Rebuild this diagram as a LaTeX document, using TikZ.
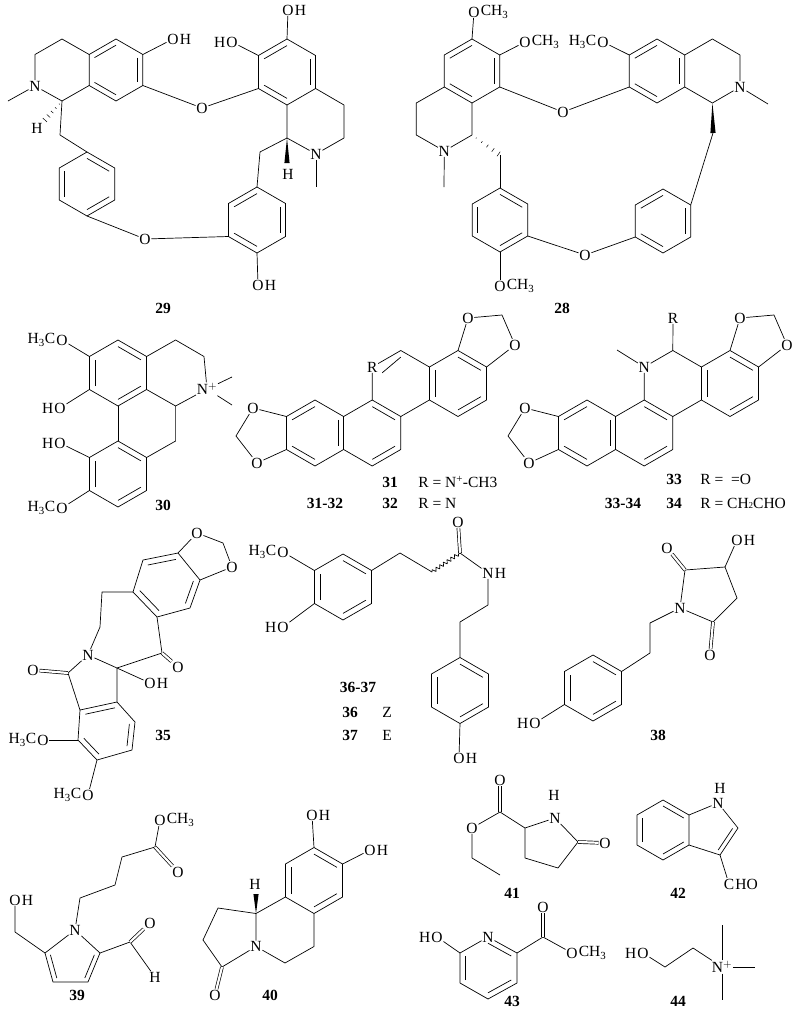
\documentclass[tikz,border=0pt]{standalone}
\usepackage{fontspec}
\setmainfont{Liberation Serif}
\usetikzlibrary{calc,decorations.pathmorphing}
\newcommand\chemfont{\fontsize{15.5}{17}\selectfont}
% ring corners: 1 top, then clockwise
\newcommand\hexpts[3]{\coordinate (#1) at (#2);
  \foreach \k/\a in {1/-90,2/-30,3/30,4/90,5/150,6/210}{\coordinate (#1\k) at ($(#2)+(\a:#3)$);}}
\newcommand\hexdraw[1]{\draw (#11)--(#12)--(#13)--(#14)--(#15)--(#16)--cycle;}
\newcommand\innr[3]{\draw ($(#1)!.2!(#3)$) -- ($(#2)!.2!(#3)$);}
\newcommand\hashb[2]{\foreach \t/\w in {.15/.5,.35/1,.55/1.6,.75/2.2,.95/2.8}{%
  \coordinate (hw) at ($(#1)!\t!(#2)$);
  \draw[line width=.5pt] ($(hw)!\w pt!90:(#2)$) -- ($(hw)!\w pt!-90:(#2)$);}}
\newcommand\wedgeb[2]{\fill (#1) -- ($(#2)!2.6pt!90:(#1)$) -- ($(#2)!2.6pt!-90:(#1)$) -- cycle;}
\tikzset{
  atom/.style={inner sep=0.5pt, font=\chemfont},
  lab/.style={inner sep=0pt, font=\chemfont},
  grpR/.style={label={[lab]east:#1}},
  grpL/.style={label={[lab]west:#1}},
  num/.style={inner sep=0pt, font=\chemfont\bfseries},
  txt/.style={inner sep=0pt, font=\chemfont, anchor=west},
  dbl/.style={double distance=2.2pt},
  wavy/.style={decorate, decoration={snake, amplitude=1.8pt, segment length=4.5pt}},
}
\begin{document}
\begin{tikzpicture}[x=1pt, y=-1pt, line width=0.7pt, line join=round]
\useasboundingbox (0,0) rectangle (800,1009);

% 29
\hexpts{a}{116,70}{31}
\hexpts{c}{87,184}{32}
\hexpts{d}{257,220}{33}
\hexpts{e}{287,72}{33}
\coordinate (b1) at (62,39);
\coordinate (b2) at (35,54.5);
\coordinate (b4) at (62,101);
\coordinate (me1) at (8,101);
\coordinate (h1e) at (44,121);
\coordinate (ch29a) at (60,135);
\coordinate (ch29b) at (260,152);
\coordinate (f2) at (344,105);
\coordinate (f3) at (344,138);
\coordinate (f5) at (287,138);
\coordinate (me2) at (316,187);
\coordinate (h2e) at (287,163);
\node[atom] (n1) at (35,86) {N};
\node[atom] (n2) at (316,154) {N};
\node[atom,grpR=H] (o1) at (173,39) {O};
\node[atom] (o2) at (202,108) {O};
\node[atom] (o3) at (145,239) {O};
\node[atom,grpR=H] (o4) at (258,285) {O};
\node[atom,grpR=H] (o5) at (288,10) {O};
\node[atom,grpL=H] (o6) at (232,42) {O};
\node[atom] (h1) at (37,128) {H};
\node[atom] (h2) at (288,174) {H};
\hexdraw{a} \innr{a6}{a1}{a} \innr{a2}{a3}{a} \innr{a4}{a5}{a}
\draw (a6)--(b1)--(b2)--(n1)--(b4)--(a5);
\draw (n1)--(me1);
\hashb{b4}{h1e}
\draw (b4)--(ch29a)--(c1);
\hexdraw{c} \innr{c1}{c2}{c} \innr{c3}{c4}{c} \innr{c5}{c6}{c}
\draw (c4)--(o3)--(d5);
\hexdraw{d} \innr{d6}{d1}{d} \innr{d2}{d3}{d} \innr{d4}{d5}{d}
\draw (d4)--(o4);
\draw (d1)--(ch29b)--(f5);
\hexdraw{e} \innr{e6}{e1}{e} \innr{e2}{e3}{e} \innr{e4}{e5}{e}
\draw (e3)--(f2)--(f3)--(n2)--(f5)--(e4);
\draw (n2)--(me2);
\wedgeb{f5}{h2e}
\draw (e1)--(o5);
\draw (e6)--(o6);
\draw (e5)--(o2)--(a3);
\draw (a2)--(o1);
\node[num] at (163,308) {29};

% 28
\hexpts{g}{472,71}{32}
\hexpts{i}{500,220}{32}
\hexpts{j}{663,221}{32}
\hexpts{k}{657,71}{32}
\coordinate (h1c) at (416.3,103);
\coordinate (h2c) at (416.3,135);
\coordinate (h4c) at (472,135);
\coordinate (me3) at (444,187);
\coordinate (hw3) at (500,155);
\coordinate (l1) at (712.4,39);
\coordinate (l2) at (740,55);
\coordinate (l5) at (712.4,103);
\coordinate (me4) at (768,104);
\coordinate (ww) at (713,133);
\node[atom] (n3) at (444.3,151) {N};
\node[atom] (n4) at (740,87) {N};
\node[atom,grpR=CH\textsubscript{3}] (o7) at (474,12) {O};
\node[atom,grpR=CH\textsubscript{3}] (o8) at (525,42) {O};
\node[atom] (o9) at (563,112) {O};
\node[atom,grpR=CH\textsubscript{3}] (o10) at (500,286) {O};
\node[atom] (o11) at (585,255) {O};
\node[atom,grpL=H\textsubscript{3}C] (o12) at (603,42) {O};
\hexdraw{g} \innr{g6}{g1}{g} \innr{g2}{g3}{g} \innr{g4}{g5}{g}
\draw (g5)--(h1c)--(h2c)--(n3)--(h4c)--(g4);
\draw (n3)--(me3);
\hashb{h4c}{hw3}
\draw (hw3)--(i1);
\hexdraw{i} \innr{i1}{i2}{i} \innr{i3}{i4}{i} \innr{i5}{i6}{i}
\draw (i4)--(o10);
\draw (i3)--(o11)--(j5);
\hexdraw{j} \innr{j6}{j1}{j} \innr{j2}{j3}{j} \innr{j4}{j5}{j}
\draw (j2)--(ww);
\wedgeb{l5}{ww}
\hexdraw{k} \innr{k6}{k1}{k} \innr{k2}{k3}{k} \innr{k4}{k5}{k}
\draw (k2)--(l1)--(l2)--(n4)--(l5)--(k3);
\draw (n4)--(me4);
\draw (k6)--(o12);
\draw (k5)--(o9)--(g3);
\draw (g1)--(o7);
\draw (g2)--(o8);
\node[num] at (562,308) {28};

% 30
\hexpts{p}{118,373}{33}
\hexpts{q}{118,474}{33}
\coordinate (s1) at (175.6,406);
\coordinate (s2) at (175.6,441);
\coordinate (t1) at (175.6,340);
\coordinate (t2) at (204,356.5);
\coordinate (me5) at (232,377);
\coordinate (me6) at (232,405);
\node[atom] (n5) at (207,389) {N$^+$};
\node[atom,grpL=H\textsubscript{3}C] (o13) at (62,340) {O};
\node[atom,grpL=H] (o14) at (60,408) {O};
\node[atom,grpL=H] (o15) at (60,443) {O};
\node[atom,grpL=H\textsubscript{3}C] (o16) at (62,508) {O};
\hexdraw{p} \innr{p1}{p2}{p} \innr{p3}{p4}{p} \innr{p5}{p6}{p}
\hexdraw{q} \innr{q1}{q2}{q} \innr{q3}{q4}{q} \innr{q5}{q6}{q}
\draw (p4)--(q1);
\draw (p3)--(s1)--(s2)--(q2);
\draw (p2)--(t1)--(t2)--(n5)--(s1);
\draw (n5)--(me5);
\draw (n5)--(me6);
\draw (p6)--(o13);
\draw (p5)--(o14);
\draw (q6)--(o15);
\draw (q5)--(o16);
\node[num] at (163,505) {30};

% 31-32
\hexpts{ra}{315,433}{33}
\hexpts{rb}{372.2,433}{33}
\hexpts{rc}{400.8,383.5}{33}
\hexpts{rd}{458,383.5}{33}
\coordinate (cp1) at (236,436);
\coordinate (cp2) at (502,315);
\node[atom] (r1) at (rc6) {R};
\node[atom] (o17) at (253,408) {O};
\node[atom] (o18) at (257,463) {O};
\node[atom] (o19) at (468,318) {O};
\node[atom] (o20) at (515,345) {O};
\hexdraw{ra} \hexdraw{rb} \hexdraw{rd}
\draw (rc5)--(r1)--(rc1)--(rc2);
\draw (rc3)--(rc4);
\draw ($(r1)!.35!(rc)$) -- ($(rc1)!.2!(rc)$);
\innr{ra6}{ra1}{ra} \innr{ra2}{ra3}{ra} \innr{ra4}{ra5}{ra}
\innr{rb1}{rb2}{rb} \innr{rb3}{rb4}{rb}
\innr{rd5}{rd6}{rd} \innr{rd1}{rd2}{rd} \innr{rd3}{rd4}{rd}
\draw (ra6)--(o17)--(cp1)--(o18)--(ra5);
\draw (rd1)--(o19)--(cp2)--(o20)--(rd2);
\node[num] at (390,482) {31};
\node[txt] at (418,482) {R = N\textsuperscript{+}-CH3};
\node[num] at (390,503) {32};
\node[txt] at (418,503) {R = N};
\node[num] at (325,503) {31-32};

% 33-34
\hexpts{sa}{587,433}{33}
\hexpts{sb}{644.2,433}{33}
\hexpts{sc}{672.8,383.5}{33}
\hexpts{sd}{730,383.5}{33}
\coordinate (me7) at (617,350);
\coordinate (cp3) at (508,436);
\coordinate (cp4) at (774,315);
\node[atom] (n6) at (sc6) {N};
\node[atom] (r2) at (673,318) {R};
\node[atom] (o21) at (525,408) {O};
\node[atom] (o22) at (529,463) {O};
\node[atom] (o23) at (740,318) {O};
\node[atom] (o24) at (787,345) {O};
\hexdraw{sa} \hexdraw{sb} \hexdraw{sd}
\draw (sc5)--(n6)--(sc1)--(sc2);
\draw (sc3)--(sc4);
\draw (sc1)--(r2);
\draw (n6)--(me7);
\innr{sa6}{sa1}{sa} \innr{sa2}{sa3}{sa} \innr{sa4}{sa5}{sa}
\innr{sb1}{sb2}{sb} \innr{sb3}{sb4}{sb}
\innr{sd5}{sd6}{sd} \innr{sd1}{sd2}{sd} \innr{sd3}{sd4}{sd}
\draw (sa6)--(o21)--(cp3)--(o22)--(sa5);
\draw (sd1)--(o23)--(cp4)--(o24)--(sd2);
\node[num] at (674,479) {33};
\node[txt] at (700,479) {R =\enspace=O};
\node[num] at (623,503) {33-34};
\node[num] at (674,503) {34};
\node[txt] at (700,503) {R = CH{\small 2}CHO};

% 35
\coordinate (u1) at (143,560);
\coordinate (u2) at (178,553);
\coordinate (u3) at (200,580);
\coordinate (u4) at (190,608);
\coordinate (u5) at (157,617);
\coordinate (u6) at (133,592);
\coordinate (uc) at (167,585);
\coordinate (cp5) at (223,543);
\coordinate (v1) at (102,592);
\coordinate (v2) at (100,627);
\coordinate (v4) at (117,668);
\coordinate (v5) at (162,653);
\coordinate (w1) at (68,673);
\coordinate (w2) at (80,710);
\coordinate (w3) at (117,702);
\coordinate (x3) at (135,722);
\coordinate (x4) at (132,750);
\coordinate (x5) at (97,760);
\coordinate (x6) at (78,740);
\coordinate (xc) at (107,731);
\node[atom] (o25) at (197,533) {O};
\node[atom] (o26) at (232,567) {O};
\node[atom] (n7) at (88,655) {N};
\node[atom] (o27) at (178,667) {O};
\node[atom,grpR=H] (o28) at (150,683) {O};
\node[atom] (o29) at (33,670) {O};
\node[atom,grpL=H\textsubscript{3}C] (o30) at (43,740) {O};
\node[atom,grpL=H\textsubscript{3}C] (o31) at (88,795) {O};
\draw (u1)--(u2)--(u3)--(u4)--(u5)--(u6)--cycle;
\innr{u1}{u2}{uc} \innr{u3}{u4}{uc} \innr{u5}{u6}{uc}
\draw (u2)--(o25)--(cp5)--(o26)--(u3);
\draw (u6)--(v1)--(v2)--(n7)--(v4)--(v5)--(u5);
\draw[dbl] (v5)--(o27);
\draw (v4)--(o28);
\draw (n7)--(w1)--(w2)--(w3)--(v4);
\draw[dbl] (w1)--(o29);
\draw (w3)--(x3)--(x4)--(x5)--(x6)--(w2);
\innr{w2}{w3}{xc} \innr{x3}{x4}{xc} \innr{x5}{x6}{xc}
\draw (x6)--(o30);
\draw (x5)--(o31);
\node[num] at (163,735) {35};

% 36-37
\hexpts{y}{343,587}{33}
\hexpts{aa}{460,690.5}{33}
\coordinate (z1) at (400,553);
\coordinate (z2) at (432,572);
\coordinate (z3) at (460,553);
\coordinate (z5) at (488,605);
\coordinate (z6) at (460,622);
\node[atom,grpL=H\textsubscript{3}C] (o32) at (283,552) {O};
\node[atom,grpL=H] (o33) at (283,627) {O};
\node[atom] (o34) at (458,522) {O};
\node[atom,grpR=H] (n8) at (488,573) {N};
\node[atom,grpR=H] (o35) at (459,758) {O};
\hexdraw{y} \innr{y5}{y6}{y} \innr{y3}{y4}{y} \innr{y1}{y2}{y}
\draw (y6)--(o32);
\draw (y5)--(o33);
\draw (y2)--(z1)--(z2);
\draw[wavy] (z2)--(z3);
\draw[dbl] (z3)--(o34);
\draw (z3)--(n8)--(z5)--(z6)--(aa1);
\hexdraw{aa} \innr{aa1}{aa2}{aa} \innr{aa3}{aa4}{aa} \innr{aa5}{aa6}{aa}
\draw (aa4)--(o35);
\node[num] at (358,687) {36-37};
\node[num] at (350,712) {36};
\node[lab] at (387,712) {Z};
\node[num] at (350,735) {37};
\node[lab] at (387,735) {E};

% 38
\hexpts{bb}{593,688}{33}
\coordinate (m1) at (650,653);
\coordinate (m2) at (650,623);
\coordinate (cc1) at (685,570);
\coordinate (cc2) at (725,567);
\coordinate (cc3) at (737,598);
\coordinate (cc4) at (713,622);
\node[atom,grpL=H] (o36) at (535,723) {O};
\node[atom] (n9) at (680,608) {N};
\node[atom] (o37) at (667,548) {O};
\node[atom,grpR=H] (o38) at (737,540) {O};
\node[atom] (o39) at (710,655) {O};
\hexdraw{bb} \innr{bb1}{bb2}{bb} \innr{bb3}{bb4}{bb} \innr{bb5}{bb6}{bb}
\draw (bb5)--(o36);
\draw (bb2)--(m1)--(m2)--(n9);
\draw (n9)--(cc1)--(cc2)--(cc3)--(cc4)--(n9);
\draw[dbl] (cc1)--(o37);
\draw (cc2)--(o38);
\draw[dbl] (cc4)--(o39);
\node[num] at (658,735) {38};

% 39
\coordinate (pyr2) at (100,953);
\coordinate (pyr3) at (88,982);
\coordinate (pyr4) at (53,982);
\coordinate (pyr5) at (45,953);
\coordinate (pyrc) at (72,962);
\coordinate (hm1) at (15,932);
\coordinate (ald) at (130,942);
\coordinate (ch1) at (80,898);
\coordinate (ch2) at (115,885);
\coordinate (ch3) at (122,857);
\coordinate (ch4) at (155,847);
\node[atom] (n10) at (75,930) {N};
\node[atom,grpR=H] (o40) at (15,900) {O};
\node[atom] (o41) at (150,923) {O};
\node[atom] (h3) at (155,977) {H};
\node[atom] (o42) at (178,872) {O};
\node[atom,grpR=CH\textsubscript{3}] (o43) at (160,820) {O};
\draw (n10)--(pyr2)--(pyr3)--(pyr4)--(pyr5)--(n10);
\innr{pyr2}{pyr3}{pyrc} \innr{pyr4}{pyr5}{pyrc}
\draw (pyr5)--(hm1)--(o40);
\draw (pyr2)--(ald)--(h3);
\draw[dbl] (ald)--(o41);
\draw (n10)--(ch1)--(ch2)--(ch3)--(ch4);
\draw[dbl] (ch4)--(o42);
\draw (ch4)--(o43);
\node[num] at (77,995) {39};

% 40
\hexpts{gg}{314,880.5}{33}
\coordinate (hh1) at (256,913.5);
\coordinate (q1c) at (314,946.5);
\coordinate (q2c) at (285,963);
\coordinate (i1c) at (218,908);
\coordinate (i2c) at (203,940);
\coordinate (i3c) at (222,967);
\coordinate (h4e) at (256,894);
\node[atom,grpR=H] (o44) at (312,815) {O};
\node[atom,grpR=H] (o45) at (370,850) {O};
\node[atom] (n11) at (256,946.5) {N};
\node[atom] (o46) at (215,995) {O};
\node[atom] (h4) at (255,884) {H};
\hexdraw{gg} \innr{gg5}{gg6}{gg} \innr{gg1}{gg2}{gg} \innr{gg3}{gg4}{gg}
\draw (gg1)--(o44);
\draw (gg2)--(o45);
\draw (gg5)--(hh1)--(n11)--(q2c)--(q1c)--(gg4);
\draw (hh1)--(i1c)--(i2c)--(i3c)--(n11);
\draw[dbl] (i3c)--(o46);
\wedgeb{hh1}{h4e}
\node[num] at (270,995) {40};

% 41
\coordinate (le1) at (500,812);
\coordinate (le3) at (472,858);
\coordinate (le4) at (500,875);
\coordinate (lc2) at (525,828);
\coordinate (lc5) at (578,842);
\coordinate (lc4) at (558,868);
\coordinate (lc3) at (525,858);
\node[atom] (o47) at (500,780) {O};
\node[atom] (o48) at (472,828) {O};
\node[atom] (n12) at (555,818) {N};
\node[atom] (h5) at (554,795) {H};
\node[atom] (o49) at (605,843) {O};
\draw[dbl] (le1)--(o47);
\draw (le1)--(o48)--(le3)--(le4);
\draw (le1)--(lc2)--(n12)--(lc5)--(lc4)--(lc3)--(lc2);
\draw[dbl] (lc5)--(o49);
\node[num] at (512,893) {41};

% 42
\hexpts{kk}{663,830}{30}
\coordinate (l42a) at (738,828);
\coordinate (l42b) at (720,855);
\coordinate (ic) at (711,830);
\node[atom] (n13) at (718,803) {N};
\node[atom] (h6) at (720,788) {H};
\node[atom,grpR=HO] (c42) at (729,884) {C};
\hexdraw{kk} \innr{kk5}{kk6}{kk} \innr{kk1}{kk2}{kk} \innr{kk3}{kk4}{kk}
\draw (kk2)--(n13)--(l42a)--(l42b)--(kk3);
\innr{l42a}{l42b}{ic}
\draw (l42b)--(c42);
\node[num] at (678,893) {42};

% 43
\coordinate (py2) at (517,953);
\coordinate (py3) at (517,983);
\coordinate (py4) at (488,999);
\coordinate (py5) at (460,983);
\coordinate (py6) at (460,953);
\coordinate (pyc) at (488,968);
\coordinate (es1) at (543,937);
\node[atom] (n14) at (488,937) {N};
\node[atom,grpL=H] (o50) at (437,937) {O};
\node[atom] (o51) at (543,907) {O};
\node[atom,grpR=CH\textsubscript{3}] (o52) at (572,953) {O};
\draw (n14)--(py2)--(py3)--(py4)--(py5)--(py6)--(n14);
\innr{n14}{py2}{pyc} \innr{py3}{py4}{pyc} \innr{py5}{py6}{pyc}
\draw (py6)--(o50);
\draw (py2)--(es1)--(o52);
\draw[dbl] (es1)--(o51);
\node[num] at (512,1001) {43};

% 44
\coordinate (ce1) at (665,967);
\coordinate (ce2) at (693,948);
\coordinate (me8) at (722,925);
\coordinate (me9) at (755,967);
\coordinate (me10) at (722,1000);
\node[atom,grpL=H] (o53) at (643,953) {O};
\node[atom] (n15) at (722,967) {N$^+$};
\draw (o53)--(ce1)--(ce2)--(n15);
\draw (n15)--(me8);
\draw (n15)--(me9);
\draw (n15)--(me10);
\node[num] at (678,1001) {44};
\end{tikzpicture}
\end{document}
